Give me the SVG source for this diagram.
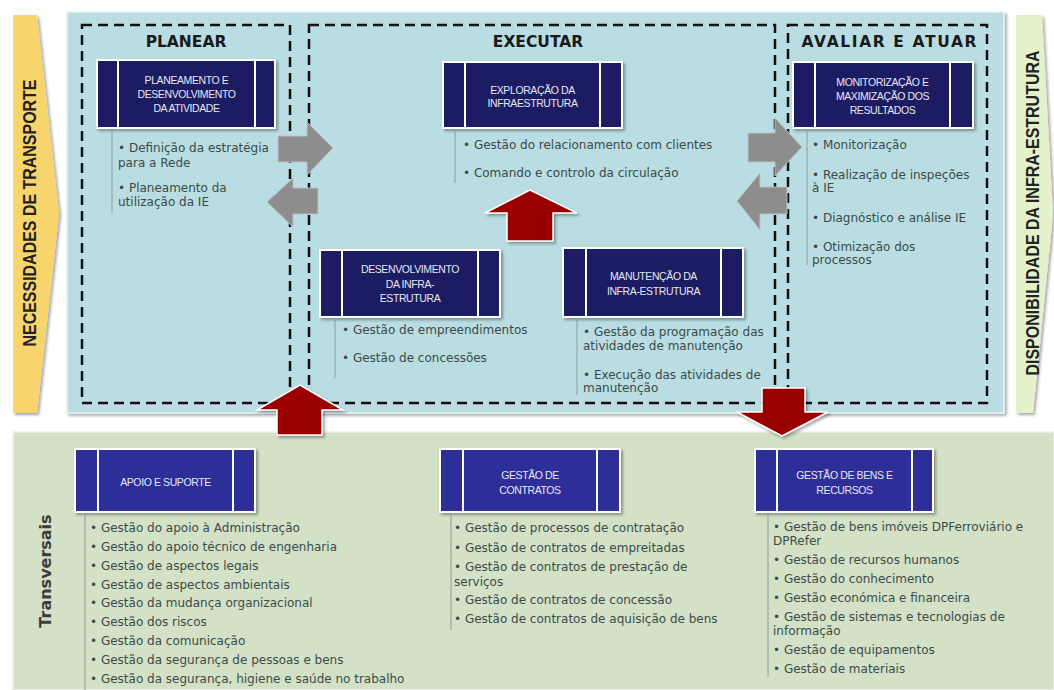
<svg xmlns="http://www.w3.org/2000/svg" width="1054" height="690" viewBox="0 0 1054 690">
<defs>
<style>
.hdr{font-family:"DejaVu Sans",sans-serif;font-weight:bold;font-size:15.5px;fill:#1a1a1a;text-anchor:middle}
.box{fill:#1e1e64;stroke:#fff;stroke-width:2}
.boxb{fill:#2d2d98;stroke:#fff;stroke-width:2}
.dv{stroke:#fff;stroke-width:2}
.lbl{font-family:"Liberation Sans",sans-serif;font-size:10.5px;fill:#e6e6f2;text-anchor:middle;letter-spacing:-0.4px}
.it{font-family:"DejaVu Sans",sans-serif;font-size:12px;fill:#3b4b48}
.vl{stroke:#8c9c9c;stroke-width:1}
.dash{fill:none;stroke:#111;stroke-width:2.5;stroke-dasharray:10 6}
.garr{fill:#8d8d8d;stroke:#b8c4c6;stroke-width:1}
.rarr{fill:#9b0000;stroke:#fff;stroke-width:1.5}
.side{font-family:"Liberation Sans",sans-serif;font-weight:bold;font-size:18px;fill:#222;text-anchor:middle}
</style>
<filter id="sh" x="-10%" y="-10%" width="130%" height="130%"><feDropShadow dx="2" dy="2" stdDeviation="1.5" flood-color="#000" flood-opacity="0.35"/></filter>
</defs>
<rect width="1054" height="690" fill="#fff"/>

<!-- side banners -->
<g id="necessidades">
<polygon points="13,15 37,15 59,214 37,413 13,413" fill="#f8d56c" filter="url(#sh)"/>
<text class="side" transform="translate(36,213) rotate(-90)" textLength="267" lengthAdjust="spacingAndGlyphs">NECESSIDADES DE TRANSPORTE</text>
</g>
<g id="disponibilidade">
<polygon points="1016,15 1042,15 1053,214 1033,413 1016,413" fill="#e4f2cc" filter="url(#sh)"/>
<text class="side" transform="translate(1039,213) rotate(-90)" textLength="325" lengthAdjust="spacingAndGlyphs">DISPONIBILIDADE DA INFRA-ESTRUTURA</text>
</g>

<!-- panels -->
<rect x="67" y="12" width="937" height="401" fill="#b9dde2" stroke="#e8f4f5" stroke-width="1.5" filter="url(#sh)"/>
<rect x="13" y="432" width="1041" height="258" fill="#d3e1c7" stroke="#eef3ea" stroke-width="1.5" filter="url(#sh)"/>
<text class="hdr" transform="translate(51,571) rotate(-90)" style="font-size:16px;fill:#3c3c3c">Transversais</text>

<!-- phase boxes -->
<g id="planear">
<rect class="dash" x="82" y="25" width="208" height="378"/>
<text class="hdr" x="186" y="47">PLANEAR</text>
</g>
<g id="executar">
<rect class="dash" x="309" y="25" width="466" height="378"/>
<text class="hdr" x="538" y="47">EXECUTAR</text>
</g>
<g id="avaliar">
<rect class="dash" x="788" y="25" width="199" height="378"/>
<text class="hdr" x="889" y="47" textLength="175" lengthAdjust="spacing">AVALIAR E ATUAR</text>
</g>

<!-- connectors -->
<g id="connectors">
<polygon class="garr" points="278,136 307,136 307,122 333,148 307,175 307,162 278,162"/>
<polygon class="garr" points="318,188 293,188 293,178 267,202 293,227 293,214 318,214"/>
<polygon class="garr" points="748,133 775,133 775,118 802,147 775,176 775,162 748,162"/>
<polygon class="garr" points="787,187 760,187 760,173 737,201 760,230 760,214 787,214"/>
<polygon class="rarr" filter="url(#sh)" points="530,190 577,213 553,213 553,241 507,241 507,213 485,213"/>
<polygon class="rarr" filter="url(#sh)" points="300,385 343,410 322,410 322,435 277,435 277,410 257,410"/>
<polygon class="rarr" filter="url(#sh)" points="762,388 805,388 805,412 828,412 782,436 737,412 762,412"/>
</g>

<!-- nodes -->
<g id="n-planeamento">
<rect class="box" x="97" y="60" width="178" height="68" filter="url(#sh)"/>
<line class="dv" x1="118" y1="60" x2="118" y2="128"/><line class="dv" x1="255" y1="60" x2="255" y2="128"/>
<text class="lbl" x="186.5" y="84">PLANEAMENTO E</text>
<text class="lbl" x="186.5" y="98">DESENVOLVIMENTO</text>
<text class="lbl" x="186.5" y="112">DA ATIVIDADE</text>
<line class="vl" x1="112" y1="129" x2="112" y2="212"/>
<text class="it" x="118" y="152">• Definição da estratégia</text>
<text class="it" x="118" y="167">para a Rede</text>
<text class="it" x="118" y="192">• Planeamento da</text>
<text class="it" x="118" y="206">utilização da IE</text>
</g>

<g id="n-exploracao">
<rect class="box" x="443" y="62" width="179" height="66" filter="url(#sh)"/>
<line class="dv" x1="465" y1="62" x2="465" y2="128"/><line class="dv" x1="600" y1="62" x2="600" y2="128"/>
<text class="lbl" x="532.5" y="93.5">EXPLORAÇÃO DA</text>
<text class="lbl" x="532.5" y="107">INFRAESTRUTURA</text>
<line class="vl" x1="455" y1="129" x2="455" y2="183"/>
<text class="it" x="463" y="149">•  Gestão do relacionamento com clientes</text>
<text class="it" x="463" y="177">• Comando e controlo da circulação</text>
</g>

<g id="n-monitorizacao">
<rect class="box" x="793" y="62" width="180" height="66" filter="url(#sh)"/>
<line class="dv" x1="815" y1="62" x2="815" y2="128"/><line class="dv" x1="950" y1="62" x2="950" y2="128"/>
<text class="lbl" x="882.5" y="86">MONITORIZAÇÃO E</text>
<text class="lbl" x="882.5" y="100">MAXIMIZAÇÃO DOS</text>
<text class="lbl" x="882.5" y="114">RESULTADOS</text>
<line class="vl" x1="807" y1="129" x2="807" y2="265"/>
<text class="it" x="812" y="149">• Monitorização</text>
<text class="it" x="812" y="179">• Realização de inspeções</text>
<text class="it" x="812" y="192">à IE</text>
<text class="it" x="812" y="222">• Diagnóstico e análise IE</text>
<text class="it" x="812" y="251">• Otimização dos</text>
<text class="it" x="812" y="264">processos</text>
</g>

<g id="n-desenvolvimento">
<rect class="box" x="320" y="250" width="180" height="67" filter="url(#sh)"/>
<line class="dv" x1="342" y1="250" x2="342" y2="317"/><line class="dv" x1="478" y1="250" x2="478" y2="317"/>
<text class="lbl" x="410" y="273">DESENVOLVIMENTO</text>
<text class="lbl" x="410" y="288">DA INFRA-</text>
<text class="lbl" x="410" y="302">ESTRUTURA</text>
<line class="vl" x1="335" y1="318" x2="335" y2="378"/>
<text class="it" x="342" y="334">• Gestão de empreendimentos</text>
<text class="it" x="342" y="362">• Gestão de concessões</text>
</g>

<g id="n-manutencao">
<rect class="box" x="563" y="248" width="180" height="69" filter="url(#sh)"/>
<line class="dv" x1="586" y1="248" x2="586" y2="317"/><line class="dv" x1="721" y1="248" x2="721" y2="317"/>
<text class="lbl" x="653.5" y="280">MANUTENÇÃO DA</text>
<text class="lbl" x="653.5" y="295">INFRA-ESTRUTURA</text>
<line class="vl" x1="577" y1="318" x2="577" y2="395"/>
<text class="it" x="583" y="336">• Gestão da programação das</text>
<text class="it" x="583" y="350">atividades de manutenção</text>
<text class="it" x="583" y="379">• Execução das atividades de</text>
<text class="it" x="583" y="392">manutenção</text>
</g>

<g id="n-apoio">
<rect class="boxb" x="75" y="449" width="180" height="63" filter="url(#sh)"/>
<line class="dv" x1="98" y1="449" x2="98" y2="512"/><line class="dv" x1="233" y1="449" x2="233" y2="512"/>
<text class="lbl" x="165.5" y="486">APOIO E SUPORTE</text>
<line class="vl" x1="85" y1="513" x2="85" y2="690"/>
<text class="it" x="90" y="532">• Gestão do apoio à Administração</text>
<text class="it" x="90" y="551">• Gestão do apoio técnico de engenharia</text>
<text class="it" x="90" y="570">• Gestão de aspectos legais</text>
<text class="it" x="90" y="589">• Gestão de aspectos ambientais</text>
<text class="it" x="90" y="607">• Gestão da mudança organizacional</text>
<text class="it" x="90" y="626">• Gestão dos riscos</text>
<text class="it" x="90" y="645">• Gestão da comunicação</text>
<text class="it" x="90" y="664">• Gestão da segurança de pessoas e bens</text>
<text class="it" x="90" y="683">• Gestão da segurança, higiene e saúde no trabalho</text>
</g>

<g id="n-contratos">
<rect class="boxb" x="440" y="449" width="180" height="63" filter="url(#sh)"/>
<line class="dv" x1="463" y1="449" x2="463" y2="512"/><line class="dv" x1="597" y1="449" x2="597" y2="512"/>
<text class="lbl" x="530" y="479">GESTÃO DE</text>
<text class="lbl" x="530" y="494">CONTRATOS</text>
<line class="vl" x1="451" y1="513" x2="451" y2="630"/>
<text class="it" x="454" y="532">• Gestão de processos de contratação</text>
<text class="it" x="454" y="552">• Gestão de contratos de empreitadas</text>
<text class="it" x="454" y="571">• Gestão de contratos de prestação de</text>
<text class="it" x="454" y="586">serviços</text>
<text class="it" x="454" y="604">• Gestão de contratos de concessão</text>
<text class="it" x="454" y="623">• Gestão de contratos de aquisição de bens</text>
</g>

<g id="n-bens">
<rect class="boxb" x="755" y="449" width="178" height="63" filter="url(#sh)"/>
<line class="dv" x1="777" y1="449" x2="777" y2="512"/><line class="dv" x1="912" y1="449" x2="912" y2="512"/>
<text class="lbl" x="844.5" y="479">GESTÃO DE BENS E</text>
<text class="lbl" x="844.5" y="494">RECURSOS</text>
<line class="vl" x1="768" y1="513" x2="768" y2="677"/>
<text class="it" x="773" y="531">• Gestão de bens imóveis DPFerroviário e</text>
<text class="it" x="773" y="545">DPRefer</text>
<text class="it" x="773" y="564">• Gestão de recursos humanos</text>
<text class="it" x="773" y="583">• Gestão do conhecimento</text>
<text class="it" x="773" y="602">• Gestão económica e financeira</text>
<text class="it" x="773" y="621">• Gestão de sistemas e tecnologias de</text>
<text class="it" x="773" y="635">informação</text>
<text class="it" x="773" y="654">• Gestão de equipamentos</text>
<text class="it" x="773" y="673">• Gestão de materiais</text>
</g>
</svg>
